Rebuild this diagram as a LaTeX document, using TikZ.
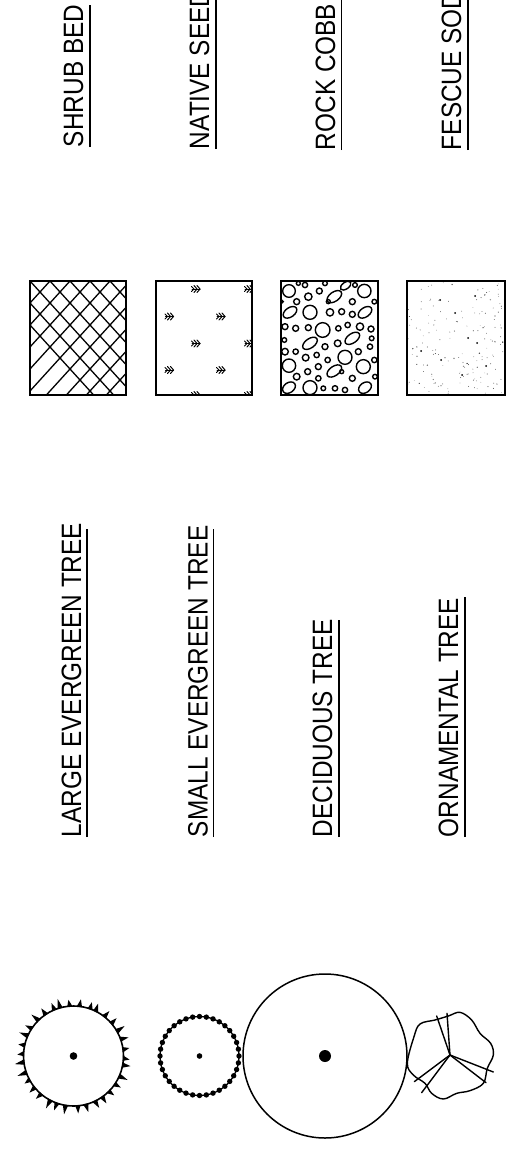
\documentclass[tikz,border=0pt]{standalone}
\usepackage{fontspec}
\usetikzlibrary{calc}
\setmainfont[FakeStretch=0.87]{Liberation Sans}
\tikzset{
  x=1pt,y=-1pt,
  label text/.style={rotate=90,anchor=base west,inner sep=0pt,outer sep=0pt,text=black,font=\fontsize{28}{30}\selectfont},
  rule line/.style={draw=black,line width=1.6pt},
  swatch/.style={draw=black,line width=2.5pt},
  hatch line/.style={draw=black,line width=1.3pt},
  rock/.style={draw=black,line width=1.4pt},
  tree line/.style={draw=black,line width=1.3pt,line cap=round,line join=round},
  tuft line/.style={draw=black,line width=1pt,line cap=round},
}
\begin{document}
\begin{tikzpicture}
\clip (0,0) rectangle (508,1172);
\fill[white] (0,0) rectangle (508,1172);

% labels, upper row
\node[label text] (shrub) at (83,147) {SHRUB BED};
\node[label text] (seed) at (209,149) {NATIVE SEED};
\node[label text] (rockt) at (335,150) {ROCK COBB};
\node[label text] (fescue) at (461,150) {FESCUE SOD};
\draw[rule line] (90,147) -- (90,5);
\draw[rule line] (216,149) -- (216,0);
\draw[rule line] (341.5,150) -- (341.5,0);
\draw[rule line] (468,150) -- (468,0);

% labels, lower row
\node[label text] (large) at (81,837) {LARGE EVERGREEN TREE};
\node[label text] (small) at (207.5,837) {SMALL EVERGREEN TREE};
\node[label text] (decid) at (332,837) {DECIDUOUS TREE};
\node[label text] (orna) at (458,837) {ORNAMENTAL TREE};
\draw[rule line] (87,837) -- (87,529);
\draw[rule line] (213.5,837) -- (213.5,529);
\draw[rule line] (339,837) -- (339,620);
\draw[rule line] (465,837) -- (465,597);

% shrub bed swatch
\begin{scope}
\clip (30,281) rectangle (126,395);
\foreach \c in {-10,10,...,230} {
  \draw[hatch line] (\c,281) -- ++(130,143);
  \draw[hatch line] (\c,281) -- ++(-130,143);
}
\end{scope}
\draw[swatch] (30,281) rectangle (126,395);

% native seed swatch
\begin{scope}
\clip (156,281) rectangle (252,395);
\foreach \px/\py in {196/289,249/289,169.5/316.5,221/316.5,196/343.5,249/343.5,169.5/370,221/370,196/395,249/395} {
  \begin{scope}[shift={(\px,\py)}]
    \draw[tuft line] (-4,0) -- (4,0);
    \draw[tuft line] (1,-3.5) -- (4,0) -- (1,3.5);
    \draw[tuft line] (-2,-3.5) -- (1,0) -- (-2,3.5);
    \draw[tuft line] (-4.5,-2.5) -- (-2,0) -- (-4.5,2.5);
  \end{scope}
}
\end{scope}
\draw[swatch] (156,281) rectangle (252,395);

% rock cobble swatch
\begin{scope}
\clip (281,281) rectangle (378,395);
\begin{scope}[shift={(275,275)},scale=0.3333]
\foreach \px/\py/\r in {42/48/19,268/48/20,105/112/21,143/165/22,210/247/21,42/272/20,265/275/21,105/338/21,
  65/80/9,100/65/11,133/48/9,232/80/9,165/112/11,200/110/9,232/118/9,30/155/9,62/160/9,100/158/9,190/160/8,218/150/8,255/155/11,288/162/9,
  188/205/10,150/215/9,30/230/10,62/230/8,92/248/10,125/240/8,250/230/9,285/215/8,130/275/9,158/255/8,65/305/10,98/290/9,130/310/8,232/310/9,
  145/340/7,180/340/8,210/345/8,90/30/8,150/25/7,240/30/7,298/80/7,298/255/8,28/195/7,160/80/6,70/25/6,290/190/7,300/305/7,20/80/5,200/290/6}
  {\draw[rock] (\px,\py) circle (\r);}
\foreach \px/\py/\a/\b in {178/65/25/14,45/112/23/14,270/112/23/14,232/190/25/14,105/205/25/14,178/288/25/14,42/338/21/15,270/338/21/15,212/32/18/10}
  {\draw[rock,rotate around={35:(\px,\py)}] (\px,\py) ellipse ({\a} and {\b});}
\end{scope}
\end{scope}
\draw[swatch] (281,281) rectangle (378,395);

% fescue sod swatch
\pgfmathsetseed{4711}
\begin{scope}
\clip (407,281) rectangle (505,395);
\foreach \i in {1,...,170} {
  \pgfmathsetmacro{\dx}{407+98*rnd}
  \pgfmathsetmacro{\dy}{281+114*rnd}
  \pgfmathsetmacro{\dr}{0.35+0.5*rnd*rnd}
  \pgfmathsetmacro{\ds}{35+55*rnd}
  \fill[black!\ds] (\dx,\dy) circle (\dr);
}
\foreach \px/\py in {486/366,477/343,468/338,441/360,462/375,455/313,475/296,421/351,440/300}
  {\fill[black] (\px,\py) circle (1);}
\end{scope}
\draw[swatch] (407,281) rectangle (505,395);

% large evergreen tree
\coordinate (t1) at (73.5,1056);
\draw[tree line,line width=1.6pt] (t1) circle (50);
\pgfmathsetseed{123}
\foreach \i in {0,...,33} {
  \pgfmathsetmacro{\ang}{\i*360/34+4*rnd}
  \pgfmathsetmacro{\len}{56+3.5*rnd}
  \pgfmathsetmacro{\lean}{-1.5+3*rnd}
  \fill[black] ($(t1)+(\ang-3.2:49.5)$) -- ($(t1)+(\ang+\lean:\len)$) -- ($(t1)+(\ang+3.2:49.5)$) -- cycle;
}
\fill[black] (t1) circle (3.8);

% small evergreen tree
\coordinate (t2) at (199.5,1056);
\draw[tree line] (t2) circle (39.5);
\foreach \i in {0,...,35} {
  \fill[black] ($(t2)+(\i*10:39.5)$) circle (2.7);
}
\fill[black] (t2) circle (2.8);

% deciduous tree
\coordinate (t3) at (325,1056);
\draw[tree line,line width=1.5pt] (t3) circle (82);
\fill[black] (t3) circle (6);

% ornamental tree
\begin{scope}[shift={(400,1000)},scale=0.3333]
\coordinate (t4) at (150,165);
\draw[tree line,line width=1.4pt] plot[smooth cycle,tension=0.6] coordinates {
  (22,190) (42,110) (60,72) (105,60) (145,48) (180,37) (215,60) (240,100) (272,130) (280,165)
  (262,205) (250,250) (210,272) (170,280) (130,297) (95,280) (75,250) (40,225)};
\foreach \ex/\ey in {110/48,141/40,280/216,258/248,43/245,65/278} {
  \draw[tree line,line width=1.4pt] (t4) -- (\ex,\ey);
}
\end{scope}
\end{tikzpicture}
\end{document}
